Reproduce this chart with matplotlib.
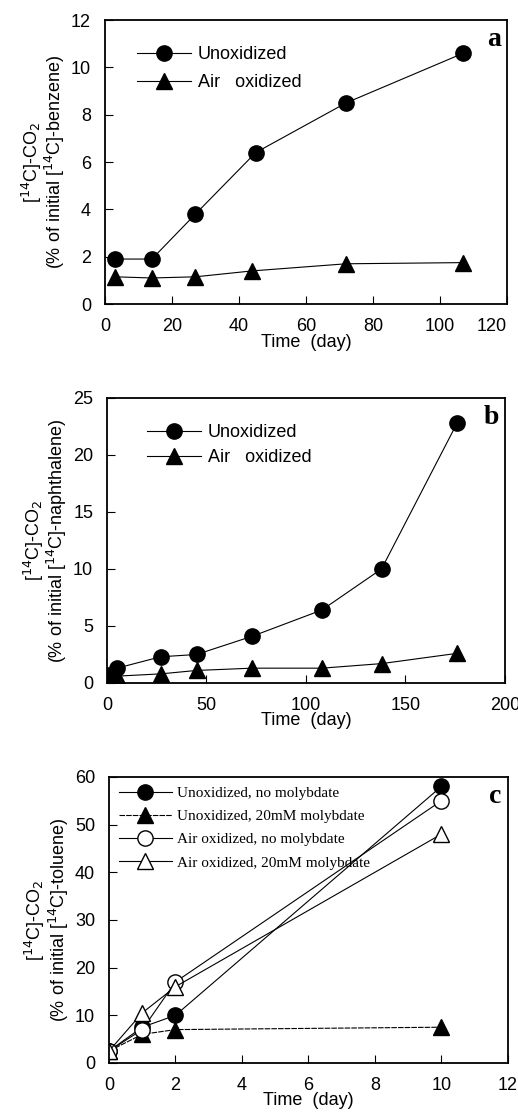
import matplotlib
matplotlib.use('Agg')

import matplotlib.pyplot as plt

plt.rcParams['font.family'] = ['Liberation Sans', 'DejaVu Sans']

# panel a: benzene
a_unox_day = [3, 14, 27, 45, 72, 107]
a_unox_val = [1.9, 1.9, 3.8, 6.4, 8.5, 10.6]
a_air_day = [3, 14, 27, 44, 72, 107]
a_air_val = [1.15, 1.1, 1.15, 1.4, 1.7, 1.75]

# panel b: naphthalene
b_unox_day = [0, 5, 27, 45, 73, 108, 138, 176]
b_unox_val = [0.7, 1.3, 2.3, 2.5, 4.1, 6.4, 10.0, 22.8]
b_air_day = [0, 5, 27, 45, 73, 108, 138, 176]
b_air_val = [0.6, 0.6, 0.8, 1.1, 1.3, 1.3, 1.7, 2.6]

# panel c: toluene
c_day = [0, 1, 2, 10]
c_unox_nomo = [2.5, 7.5, 10, 58]
c_unox_mo = [2.5, 6, 7, 7.5]
c_air_nomo = [2.5, 7, 17, 55]
c_air_mo = [2.5, 10.5, 16, 48]

c_labels = ['Unoxidized, no molybdate', 'Unoxidized, 20mM molybdate',
            'Air oxidized, no molybdate', 'Air oxidized, 20mM molybdate']

fig = plt.figure(figsize=(5.18, 11.12), dpi=100)

ax_a = fig.add_axes([0.2027, 0.7266, 0.776, 0.2554])
ax_b = fig.add_axes([0.2066, 0.3858, 0.768, 0.2563])
ax_c = fig.add_axes([0.2104, 0.0441, 0.770, 0.2572])

lw = 0.8
ms = 11
tick_fs = 13
lab_fs = 13


def style_axes(ax):
    for s in ax.spines.values():
        s.set_linewidth(1.3)
    ax.tick_params(direction='in', length=6, width=0.8, labelsize=tick_fs)
    ax.tick_params(axis='x', pad=10)
    ax.tick_params(axis='y', pad=10)
    ax.set_xlabel('Time  (day)', fontsize=lab_fs, labelpad=-1)


def set_ylab(ax, compound):
    ax.set_ylabel('[$^{14}$C]-CO$_2$\n(% of initial [$^{14}$C]-' + compound + ')',
                  fontsize=lab_fs, labelpad=3, linespacing=0.95)


def panel_letter(ax, s):
    ax.text(0.985, 0.975, s, transform=ax.transAxes, ha='right', va='top',
            fontsize=20, fontweight='bold', family='Liberation Serif')


# --- a ---
ax_a.plot(a_unox_day, a_unox_val, '-o', color='black', lw=lw, ms=ms, label='Unoxidized')
ax_a.plot(a_air_day, a_air_val, '-^', color='black', lw=lw, ms=ms, label='Air   oxidized')
ax_a.set_xlim(0, 120)
ax_a.set_ylim(0, 12)
ax_a.set_xticks(range(0, 121, 20))
ax_a.set_yticks(range(0, 13, 2))
set_ylab(ax_a, 'benzene')
style_axes(ax_a)
ax_a.get_xticklabels()[-1].set_horizontalalignment('right')
ax_a.legend(loc='upper left', bbox_to_anchor=(0.04, 0.965), frameon=False, fontsize=13,
            handlelength=3.0, handletextpad=0.35, labelspacing=0.6)
panel_letter(ax_a, 'a')

# --- b ---
ax_b.plot(b_unox_day, b_unox_val, '-o', color='black', lw=lw, ms=ms, label='Unoxidized')
ax_b.plot(b_air_day, b_air_val, '-^', color='black', lw=lw, ms=ms, label='Air   oxidized')
ax_b.set_xlim(0, 200)
ax_b.set_ylim(0, 25)
ax_b.set_xticks(range(0, 201, 50))
ax_b.set_yticks(range(0, 26, 5))
set_ylab(ax_b, 'naphthalene')
style_axes(ax_b)
ax_b.legend(loc='upper left', bbox_to_anchor=(0.06, 0.965), frameon=False, fontsize=13,
            handlelength=3.0, handletextpad=0.35, labelspacing=0.45)
panel_letter(ax_b, 'b')

# --- c ---
ax_c.plot(c_day, c_unox_nomo, '-o', color='black', lw=lw, ms=ms, label=c_labels[0])
ax_c.plot(c_day, c_unox_mo, '^', color='black', ls=(0, (5, 1)), lw=lw, ms=ms, label=c_labels[1])
ax_c.plot(c_day, c_air_nomo, '-o', color='black', mfc='white', lw=lw, ms=ms, label=c_labels[2])
ax_c.plot(c_day, c_air_mo, '-^', color='black', mfc='white', lw=lw, ms=ms, label=c_labels[3])
ax_c.set_xlim(0, 12)
ax_c.set_ylim(0, 60)
ax_c.set_xticks(range(0, 13, 2))
ax_c.set_yticks(range(0, 61, 10))
set_ylab(ax_c, 'toluene')
style_axes(ax_c)
ax_c.legend(loc='upper left', bbox_to_anchor=(-0.01, 1.015), frameon=False,
            prop={'family': 'Liberation Serif', 'size': 11},
            handlelength=3.5, handletextpad=0.3, labelspacing=0.62)
panel_letter(ax_c, 'c')

plt.savefig('out.png', dpi=100)
